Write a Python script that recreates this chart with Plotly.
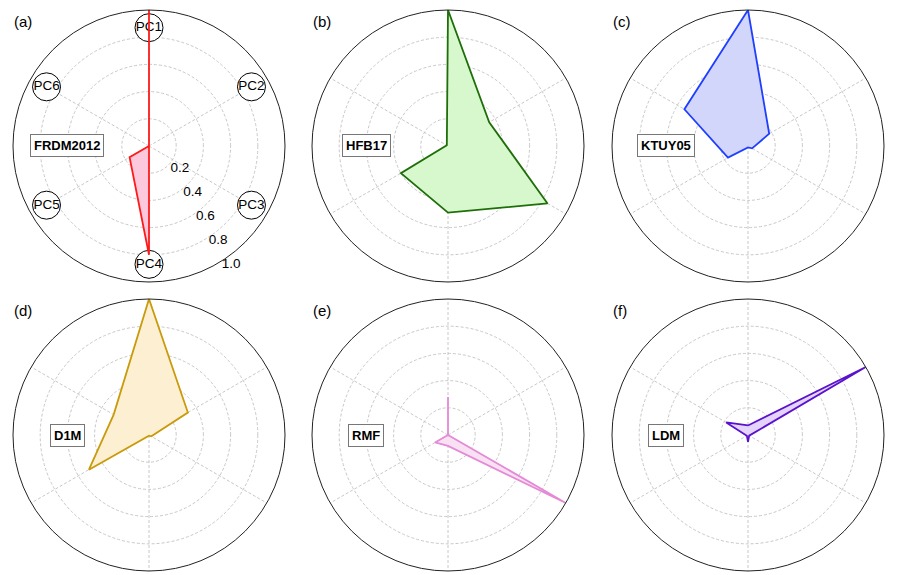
import plotly.graph_objects as go

# ---------------- data ----------------
PCS = ["PC1", "PC2", "PC3", "PC4", "PC5", "PC6"]
MODELS = ["FRDM2012", "HFB17", "KTUY05", "D1M", "RMF", "LDM"]
PANEL_TAGS = ["(a)", "(b)", "(c)", "(d)", "(e)", "(f)"]

FRDM2012 = [1.05, 0.0, 0.0, 0.80, 0.165, 0.0]
HFB17 = [1.0, 0.35, 0.845, 0.49, 0.40, 0.01]
KTUY05 = [1.0, 0.18, 0.035, 0.01, 0.17, 0.54]
D1M = [1.0, 0.33, 0.02, 0.005, 0.51, 0.30]
RMF = [0.28, 0.0, 1.0, 0.08, 0.11, 0.0]
LDM = [0.07, 1.0, 0.01, 0.05, 0.01, 0.185]

RADIAL_TICKS = [0.2, 0.4, 0.6, 0.8, 1.0]
RADIAL_TICK_TEXT = ["0.2", "0.4", "0.6", "0.8", "1.0"]
PC_LABEL_R = 0.87

SERIES = [FRDM2012, HFB17, KTUY05, D1M, RMF, LDM]
LINE_COLORS = ["#ff1a1a", "#1f6e0a", "#1f3fff", "#c99a0a", "#e58ad6", "#5a12cc"]
FILL_COLORS = ["#fbc8dc", "#d6f8cc", "#d3d6fb", "#fdefd2", "#f9e1f4", "#e4d4fb"]

# ---------------- layout geometry (pixels) ----------------
W, H = 897, 575
CENTERS = [(149, 146), (448, 146), (748, 146), (149, 435), (448, 435), (748, 435)]
RAD = 136
FONT = "Liberation Sans, Arial, Helvetica, sans-serif"
GRID = "#c8c8c8"
DASH = "3px,2px"

fig = go.Figure()
layout_polars = {}
annotations = []

for i, (vals, lc, fc) in enumerate(zip(SERIES, LINE_COLORS, FILL_COLORS)):
    pname = "polar" if i == 0 else f"polar{i+1}"
    sub = pname
    cx, cy = CENTERS[i]

    if i == 0:
        fig.add_trace(go.Scatterpolar(
            r=[PC_LABEL_R] * len(PCS), theta=PCS, subplot=sub,
            mode="markers+text", text=PCS, textposition="middle center",
            textfont=dict(size=13.5, color="black", family=FONT),
            marker=dict(size=28, color="white", line=dict(color="black", width=1)),
            cliponaxis=False, showlegend=False, hoverinfo="skip"))

    fig.add_trace(go.Scatterpolar(
        r=vals + [vals[0]], theta=PCS + [PCS[0]], subplot=sub,
        mode="lines", fill="toself", fillcolor=fc,
        line=dict(color=lc, width=1.8), cliponaxis=False,
        showlegend=False, name=MODELS[i]))

    layout_polars[pname] = dict(
        domain=dict(x=[(cx - RAD) / W, (cx + RAD) / W],
                    y=[1 - (cy + RAD) / H, 1 - (cy - RAD) / H]),
        bgcolor="white",
        angularaxis=dict(
            type="category", categoryarray=PCS, direction="clockwise", rotation=90,
            showticklabels=False, ticks="", showgrid=True,
            gridcolor=GRID, griddash=DASH, gridwidth=1,
            showline=True, linecolor="#222222", linewidth=1),
        radialaxis=dict(
            range=[0, 1.0], tickvals=RADIAL_TICKS, ticktext=RADIAL_TICK_TEXT,
            showticklabels=(i == 0), ticks="", showline=False,
            gridcolor=GRID, griddash=DASH, gridwidth=1,
            angle=-62, side="counterclockwise", tickangle=-62,
            tickfont=dict(size=13.5, color="black", family=FONT)),
    )

    annotations.append(dict(
        x=(cx - 0.6 * RAD) / W, y=1 - cy / H, xref="paper", yref="paper",
        text=f"<b>{MODELS[i]}</b>", showarrow=False, xanchor="center", yanchor="middle",
        font=dict(size=13, color="black", family=FONT),
        bgcolor="white", bordercolor="#777777", borderwidth=1, borderpad=3))
    annotations.append(dict(
        x=(cx - RAD - 1) / W, y=1 - (cy - RAD + 1) / H, xref="paper", yref="paper",
        text=PANEL_TAGS[i], showarrow=False, xanchor="left", yanchor="top",
        font=dict(size=15, color="black", family=FONT)))

fig.update_layout(
    width=W, height=H, margin=dict(l=0, r=0, t=0, b=0),
    paper_bgcolor="white", plot_bgcolor="white",
    font=dict(family=FONT), showlegend=False,
    annotations=annotations, **layout_polars)

fig.write_html(
    "out.html",
    config={"displayModeBar": False},
    post_script="document.body.style.margin='0';document.body.style.overflow='hidden';")
